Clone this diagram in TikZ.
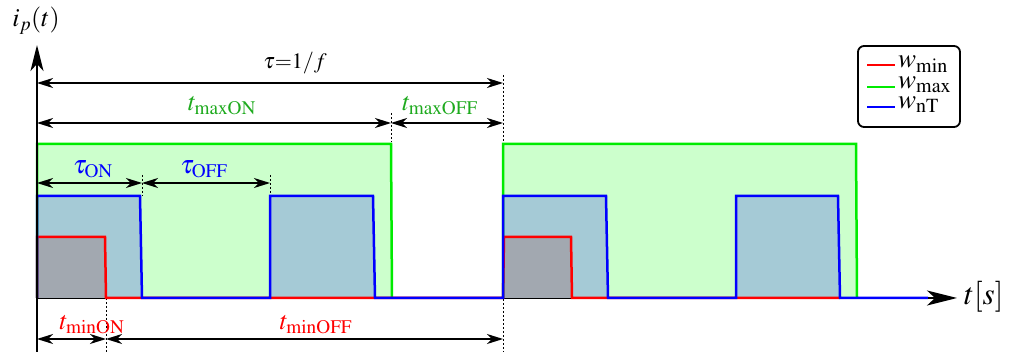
\documentclass[tikz,border=0pt]{standalone}
\usepackage{mathptmx}
\usetikzlibrary{arrows.meta}
\definecolor{gline}{RGB}{0,235,0}
\definecolor{gtext}{RGB}{30,170,30}
\definecolor{gfill}{RGB}{204,255,204}
\definecolor{bfill}{RGB}{165,202,214}
\definecolor{rfill}{RGB}{162,168,176}
\definecolor{bline}{RGB}{0,0,255}
\definecolor{rline}{RGB}{255,0,0}
\begin{document}
\begin{tikzpicture}[x=1pt,y=-1pt,
  sig/.style={line width=2.5pt, line join=miter},
  dim/.style={line width=1.3pt, {Stealth[length=16pt,width=10pt,inset=5pt]}-{Stealth[length=16pt,width=10pt,inset=5pt]}},
  guide/.style={dash pattern=on 2pt off 2pt, line width=0.8pt},
  axis/.style={line width=2pt},
  lbl/.style={font=\fontsize{26}{28}\selectfont, inner sep=0pt},
  leg/.style={font=\fontsize{27}{28}\selectfont, inner sep=0pt, anchor=west},
]
\useasboundingbox (0,0) rectangle (1010,352);
% key coordinates
\coordinate (O) at (37,298);
\coordinate (Ytop) at (37,45);
\coordinate (Ybot) at (37,352);
\coordinate (Xend) at (957,298);
\coordinate (Xpre) at (928,298);
% guides
\coordinate (g1a) at (503,75);   \coordinate (g1b) at (503,352);
\coordinate (g2a) at (391,113);  \coordinate (g2b) at (391,142);
\coordinate (g3a) at (142,175);  \coordinate (g3b) at (142,196);
\coordinate (g4a) at (270,175);  \coordinate (g4b) at (270,196);
\coordinate (g5a) at (106,298);  \coordinate (g5b) at (106,352);
\draw[guide] (g1a) -- (g1b);
\draw[guide] (g5a) -- (g5b);
% x axis (under signals)
\draw[axis] (O) -- (Xpre);
% fills
\fill[gfill] (37,298) -- (37,144) -- (391,144) -- (392,298) -- cycle;
\fill[gfill] (503,298) -- (503,144) -- (856,144) -- (857,298) -- cycle;
\fill[bfill] (37,298) -- (37,196) -- (140,196) -- (142,298) -- cycle;
\fill[bfill] (270,298) -- (270,196) -- (373,196) -- (375,298) -- cycle;
\fill[bfill] (503,298) -- (503,196) -- (606,196) -- (608,298) -- cycle;
\fill[bfill] (736,298) -- (736,196) -- (838,196) -- (840,298) -- cycle;
\fill[rfill] (37,298) -- (37,237) -- (105,237) -- (106,298) -- cycle;
\fill[rfill] (504,298) -- (504,237) -- (571,237) -- (572,298) -- cycle;
\draw[guide] (g2a) -- (g2b);
\draw[guide] (g3a) -- (g3b);
\draw[guide] (g4a) -- (g4b);
% signal lines
\draw[sig, gline] (37,298) -- (37,144) -- (391,144) -- (392,298)
  (503,298) -- (503,144) -- (856,144) -- (857,298);
\draw[sig, rline] (37,298) -- (37,237) -- (105,237) -- (106,298) -- (503,298)
  -- (504,237) -- (571,237) -- (572,298) -- (840,298);
\draw[sig, bline] (37,298) -- (37,196) -- (140,196) -- (142,298) -- (270,298)
  -- (270,196) -- (373,196) -- (375,298) -- (503,298)
  -- (503,196) -- (606,196) -- (608,298) -- (736,298)
  -- (736,196) -- (838,196) -- (840,298) -- (Xpre);
% axes
\draw[axis, -{Stealth[length=30pt,width=15pt,inset=8pt]}] (Xpre) -- (Xend);
\draw[axis, -{Stealth[length=26pt,width=13pt,inset=7pt]}] (Ybot) -- (Ytop);
\node[lbl] (ylab) at (36,21) {$i_p(t)$};
\node[lbl, anchor=west, font=\fontsize{31}{32}\selectfont] (xlab) at (964,297) {$t[s]$};
% dimension arrows
\coordinate (d1a) at (37,83);  \coordinate (d1b) at (503,83);
\coordinate (d2a) at (37,123); \coordinate (d2b) at (391,123); \coordinate (d2c) at (503,123);
\coordinate (d3a) at (37,183); \coordinate (d3b) at (142,183); \coordinate (d3c) at (270,183);
\coordinate (d4a) at (37,339); \coordinate (d4b) at (106,339); \coordinate (d4c) at (503,339);
\draw[dim] (d1a) -- (d1b);
\draw[dim] (d2a) -- (d2b);
\draw[dim] (d2b) -- (d2c);
\draw[dim] (d3a) -- (d3b);
\draw[dim] (d3b) -- (d3c);
\draw[dim] (d4a) -- (d4b);
\draw[dim] (d4b) -- (d4c);
\node[lbl, font=\fontsize{22}{24}\selectfont] (tau) at (295,63) {$\tau{=}1/f$};
\node[lbl, text=gtext] (tmaxon) at (222,106) {$t_{\mathrm{maxON}}$};
\node[lbl, text=gtext] (tmaxoff) at (440,106) {$t_{\mathrm{maxOFF}}$};
\node[lbl, text=bline] (tauon) at (93,169) {$\tau_{\mathrm{ON}}$};
\node[lbl, text=bline] (tauoff) at (204,169) {$\tau_{\mathrm{OFF}}$};
\node[lbl, text=rline] (tminon) at (92,325) {$t_{\mathrm{minON}}$};
\node[lbl, text=rline] (tminoff) at (316,325) {$t_{\mathrm{minOFF}}$};
% legend
\node[draw, line width=1.8pt, rounded corners=6pt, minimum width=102pt, minimum height=81pt, inner sep=0pt] (legend) at (909,86.5) {};
\coordinate (l1a) at (867,65);  \coordinate (l1b) at (895,65);
\coordinate (l2a) at (867,87);  \coordinate (l2b) at (895,87);
\coordinate (l3a) at (867,107); \coordinate (l3b) at (895,107);
\draw[line width=2.5pt, rline] (l1a) -- (l1b);
\draw[line width=2.5pt, gline] (l2a) -- (l2b);
\draw[line width=2.5pt, bline] (l3a) -- (l3b);
\node[leg] (w1) at (898,64) {$w_{\mathrm{min}}$};
\node[leg] (w2) at (898,85) {$w_{\mathrm{max}}$};
\node[leg] (w3) at (898,105) {$w_{\mathrm{nT}}$};
\end{tikzpicture}
\end{document}
